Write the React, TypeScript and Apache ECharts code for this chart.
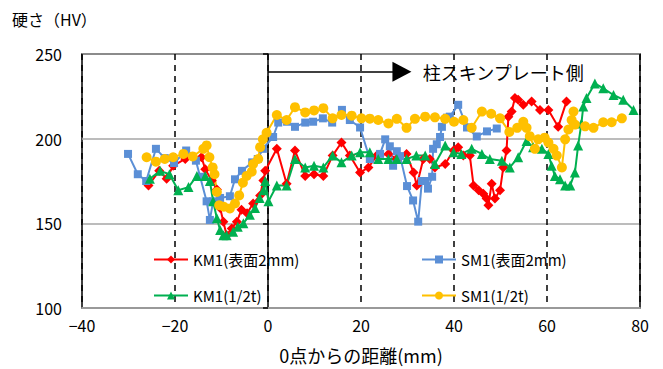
import React, { useEffect, useRef } from "react";
import * as echarts from "echarts";

const seriesNames = ["KM1(表面2mm)", "SM1(表面2mm)", "KM1(1/2t)", "SM1(1/2t)"];

const km1Surface: [number, number][] = [
  [-25.7, 172.4], [-23.4, 181], [-21.8, 176.3], [-20.4, 184], [-17.8, 188], [-14.3, 189], [-13.5, 182],
  [-12.1, 175.3], [-11, 170], [-10.3, 159], [-9.6, 151], [-8.9, 143], [-7.8, 147], [-6.7, 151], [-5.7, 158],
  [-4.5, 156], [-3.2, 161.7], [-1.7, 166.5], [-1, 175.3], [-0.6, 181], [1.9, 194], [4, 173.4], [5.8, 193],
  [8, 178], [9.9, 179], [11.9, 178], [13.9, 190], [15.8, 197.7], [17.6, 190], [19.8, 180], [21.6, 183],
  [23.4, 190], [25.9, 191], [27.7, 188], [29.8, 191], [31.3, 180], [32, 172.4], [33.4, 188], [34.8, 188],
  [35.9, 183], [38.1, 185], [39.9, 193], [40.9, 195], [42, 190], [43.4, 190], [44.2, 172.4], [45.3, 169.5],
  [46.3, 167.5], [47, 164.6], [47.4, 160.7], [48.1, 173.4], [48.8, 164.6], [49.9, 169.5], [50.6, 183],
  [51.3, 193], [51.7, 213], [52.4, 216], [53.1, 224], [53.8, 223], [54.9, 220], [56.7, 222], [58.5, 217],
  [60.3, 217], [62.4, 207], [64.2, 222],
];

const sm1Surface: [number, number][] = [
  [-30.1, 191], [-28, 179], [-26.2, 175], [-24.1, 194], [-22.2, 188.5], [-20.2, 185.6], [-17.6, 193],
  [-15.5, 187], [-14.6, 177.5], [-13.2, 163], [-12.5, 152], [-11.8, 163], [-10.3, 165], [-8.2, 166],
  [-7.1, 176], [-5.6, 181], [-3.4, 186], [-2.2, 188], [-1.1, 194], [1.1, 201], [2.2, 209.5], [4.1, 210],
  [5.8, 207], [8, 209.5], [9.7, 210], [11.8, 212], [13.8, 209.5], [15.9, 217], [17.6, 211], [19.8, 206.6],
  [21.9, 188], [24.1, 191], [25.2, 199.6], [26.2, 195.5], [26.9, 184], [27.7, 192.6], [28.4, 189.7],
  [29.9, 172], [31.2, 163.5], [32.3, 151], [33.1, 175], [33.8, 175], [34.4, 170.5], [35.3, 177.5],
  [35.5, 194], [36.3, 196.7], [37, 201], [37.4, 207], [38.5, 212.4], [39.1, 213], [40.9, 220],
  [42.8, 206.6], [44.9, 201.3], [47.1, 204.3], [49.2, 206],
];

const km1Half: [number, number][] = [
  [-25.4, 176.3], [-23.2, 181], [-21.2, 179], [-19.3, 169.5], [-17.1, 171.4], [-15.3, 178], [-13.5, 178],
  [-12.5, 175], [-11.8, 163], [-11, 153], [-10.3, 146], [-9.6, 143], [-8.9, 143], [-7.5, 145], [-6.5, 148],
  [-5.3, 150], [-3.9, 155], [-2.8, 159], [-1.8, 165], [-1, 169.5], [-0.6, 175], [0.1, 163], [1.9, 172.4],
  [4, 172.4], [5.8, 188], [8, 183], [9.9, 184], [11.9, 183], [13.9, 190], [15.8, 186], [18, 190],
  [19.8, 192], [21.9, 192], [23.7, 188], [25.9, 188], [27.7, 188], [29.8, 188], [31.9, 190], [33.8, 190],
  [35.9, 185], [38.1, 196], [39.9, 192], [41.6, 191], [43.8, 194], [46, 191], [47.7, 188], [50.3, 187],
  [52, 183], [53.8, 189], [55.6, 198.6], [57, 195], [58.9, 194], [60.3, 191], [61, 184], [61.7, 178],
  [62.8, 176], [63.9, 172.4], [65, 172.4], [66, 180], [66.7, 196], [67.4, 209], [67.8, 219], [68.5, 224],
  [70.3, 232.6], [72.1, 229.7], [74.3, 225.8], [76.4, 223], [78.6, 217],
];

const sm1Half: [number, number][] = [
  [-26.1, 189], [-24.1, 186.4], [-22.2, 188], [-20.4, 189], [-18.2, 191], [-16.2, 189.5], [-13.9, 194],
  [-13.2, 196], [-12.6, 189], [-11.9, 183], [-11.5, 179], [-11, 168.5], [-10.5, 160.7], [-9.5, 159.8],
  [-8.2, 158.8], [-7.1, 161.7], [-6.2, 166.5], [-5.4, 174], [-4.6, 178], [-3.5, 180.5], [-3.2, 185],
  [-2.1, 188], [-1.7, 195], [-1.1, 199.6], [-0.3, 203.5], [1.9, 214], [4, 211], [5.8, 218.6], [8, 215.5],
  [9.9, 216.7], [11.9, 218], [13.9, 212], [15.8, 214], [18, 213.6], [20.1, 212], [21.9, 211.8], [23.7, 211],
  [25.9, 209], [27.7, 211.7], [29.8, 206.4], [31.6, 211.7], [33.8, 213], [35.9, 212.6], [38.1, 211.7],
  [40, 210], [42, 211], [43.8, 206.4], [46, 216], [48, 214.7], [49.9, 212], [51.9, 204], [53.6, 206.4],
  [54.9, 210], [55.6, 206.4], [56.3, 201.5], [57.4, 194], [58.1, 199.6], [59.5, 200.6], [60.3, 197.7],
  [61.4, 194], [62.1, 190], [63.2, 183], [63.9, 199.6], [64.6, 205.4], [65.3, 211], [65.7, 216], [66, 208.3],
  [68.2, 207.3], [70, 206.4], [72.1, 209.7], [73.9, 209.7], [76.1, 212],
];

const arrowFrom: [number, number] = [0, 239.5];
const arrowTo: [number, number] = [28.8, 239.5];
const annotationPos: [number, number] = [33.3, 239.5];
const annotationText = "柱スキンプレート側";

const xTitle = "0点からの距離(mm)";
const yTitle = "硬さ（HV）";

const FONT = "'Noto Sans CJK JP', 'Noto Sans', sans-serif";

export default function App() {
  const ref = useRef<HTMLDivElement>(null);
  useEffect(() => {
    if (!ref.current) return;
    const chart = echarts.init(ref.current, undefined, { renderer: "svg" });
    const colors = ["#FF0000", "#5B8FD6", "#00B050", "#FFC000"];
    const symbols = ["diamond", "rect", "triangle", "circle"];
    const sizes = [10, 8, 10, 10];
    const datas = [km1Surface, sm1Surface, km1Half, sm1Half];
    const legendPos = [
      { left: 153, top: 252 },
      { left: 421, top: 252 },
      { left: 153, top: 288 },
      { left: 421, top: 288 },
    ];
    const series: any[] = seriesNames.map((name, i) => ({
      name,
      type: "line",
      data: datas[i],
      symbol: symbols[i],
      symbolSize: sizes[i],
      showSymbol: true,
      itemStyle: { color: colors[i] },
      lineStyle: { color: colors[i], width: 2 },
      z: 3,
    }));
    series[0].markLine = {
      silent: true,
      symbol: ["none", "triangle"],
      symbolSize: 20,
      itemStyle: { color: "#000" },
      lineStyle: { color: "#000", width: 1.5, type: "solid" },
      label: { show: false },
      data: [
        [
          { coord: arrowFrom, symbol: "none" },
          { coord: arrowTo, symbol: "triangle", symbolSize: [20, 19], itemStyle: { color: "#000" } },
        ],
      ],
    };
    series[0].markPoint = {
      silent: true,
      symbol: "rect",
      symbolSize: 0,
      label: {
        show: true,
        position: "right",
        distance: 0,
        formatter: annotationText,
        color: "#000",
        fontSize: 18,
        fontFamily: FONT,
      },
      data: [{ coord: annotationPos }],
    };
    const minusFmt = (v: number) => String(v).replace("-", "−");
    chart.setOption({
      animation: false,
      backgroundColor: "#fff",
      textStyle: { fontFamily: FONT },
      title: {
        text: yTitle,
        left: 12,
        top: 11,
        padding: 0,
        textStyle: { color: "#000", fontSize: 16, fontWeight: "normal", fontFamily: FONT },
      },
      grid: {
        left: 82,
        right: 23,
        top: 54,
        bottom: 58,
        show: true,
        borderColor: "#000",
        borderWidth: 1.5,
        backgroundColor: "transparent",
      },
      legend: seriesNames.map((n, i) => ({
        data: [n],
        left: legendPos[i].left,
        top: legendPos[i].top,
        itemWidth: 34,
        itemHeight: 10,
        textStyle: { fontSize: 15, color: "#000", fontFamily: FONT },
        backgroundColor: "transparent",
        padding: 0,
      })),
      xAxis: {
        type: "value",
        min: -40,
        max: 80,
        interval: 20,
        axisLine: { show: true, lineStyle: { color: "#999", width: 2 } },
        axisTick: { show: false },
        axisLabel: { color: "#000", fontSize: 16, margin: 9, fontFamily: FONT, formatter: minusFmt },
        splitLine: { show: true, lineStyle: { color: "#000", type: [6, 5], width: 1.5 } },
        name: xTitle,
        nameLocation: "middle",
        nameGap: 38,
        nameTextStyle: { color: "#000", fontSize: 18, fontFamily: FONT },
      },
      yAxis: {
        type: "value",
        min: 100,
        max: 250,
        interval: 50,
        axisLine: { show: true, lineStyle: { color: "#000", width: 1.5 } },
        axisTick: { show: true, inside: false, length: 5, lineStyle: { color: "#000", width: 1.5 } },
        axisLabel: { color: "#000", fontSize: 16, margin: 20, fontFamily: FONT },
        splitLine: { show: true, lineStyle: { color: "#a6a6a6", width: 1.5 } },
      },
      series,
    });
    return () => chart.dispose();
  }, []);
  return <div ref={ref} style={{ width: 663, height: 369, position: "absolute", left: 0, top: 0 }} />;
}
